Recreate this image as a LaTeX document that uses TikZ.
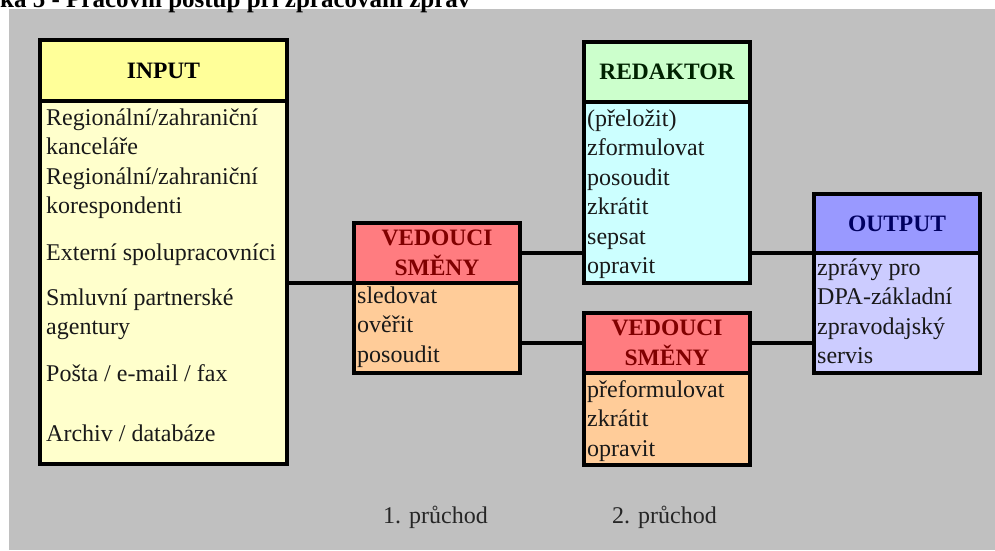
\documentclass[tikz,border=0pt]{standalone}
\usepackage{fontspec}
\setmainfont{Liberation Serif}
\definecolor{bg}{HTML}{C0C0C0}
\definecolor{inHc}{HTML}{FFFF99}
\definecolor{inBc}{HTML}{FFFFCC}
\definecolor{vdHc}{HTML}{FF7C80}
\definecolor{vdBc}{HTML}{FFCC99}
\definecolor{vdTc}{HTML}{800000}
\definecolor{rdHc}{HTML}{CCFFCC}
\definecolor{rdBc}{HTML}{CCFFFF}
\definecolor{rdTc}{HTML}{002200}
\definecolor{otHc}{HTML}{9999FF}
\definecolor{otBc}{HTML}{CCCCFF}
\definecolor{otTc}{HTML}{000060}
\begin{document}
\begin{tikzpicture}[x=1pt,y=-1pt,
  box/.style={draw=black, line width=4pt, inner sep=0pt, outer sep=0pt, anchor=north west},
  hdr/.style={font=\fontsize{23.5}{30}\selectfont\bfseries, align=center},
  bodytext/.style={font=\fontsize{24}{29.5}\selectfont, align=left, anchor=north west, inner sep=0pt, text=black!90},
  lbl/.style={font=\fontsize{24}{29.5}\selectfont, anchor=base west, inner sep=0pt, text=black!85},
  link/.style={line width=4pt}]
\clip (0,0) rectangle (995,550);
\useasboundingbox (0,0) rectangle (995,550);
\fill[bg] (9,9) rectangle (995,550);
\node[anchor=base west, inner sep=0pt, font=\fontsize{25}{30}\selectfont\bfseries] (title) at (0,7) {ka 5 - Pracovní postup při zpracování zpráv};

% INPUT
\node[box, hdr, fill=inHc, minimum width=247pt, minimum height=61pt] (inH) at (40,40) {INPUT};
\node[box, fill=inBc, minimum width=247pt, minimum height=363pt] (inB) at (40,101) {};
\node[bodytext] (inT) at (46,104.35) {\strut Regionální/zahraniční\\ kanceláře\\ Regionální/zahraniční\\ korespondenti\\[17pt] Externí spolupracovníci\\[15.5pt] Smluvní partnerské\\ agentury\\[17.5pt] Pošta / e-mail / fax\\[30.5pt] Archiv / databáze};

% VEDOUCI SMENY 1
\node[box, hdr, fill=vdHc, text=vdTc, minimum width=166pt, minimum height=60pt] (v1H) at (354,223) {VEDOUCI\\SMĚNY};
\node[box, fill=vdBc, minimum width=166pt, minimum height=90pt] (v1B) at (354,283) {};
\node[bodytext] (v1T) at (357,282.35) {\strut sledovat\\ ověřit\\ posoudit};

% REDAKTOR
\node[box, hdr, fill=rdHc, text=rdTc, minimum width=166pt, minimum height=60pt] (rH) at (584,42) {REDAKTOR};
\node[box, fill=rdBc, minimum width=166pt, minimum height=181pt] (rB) at (584,102) {};
\node[bodytext] (rT) at (587,105.35) {\strut (přeložit)\\ zformulovat\\ posoudit\\ zkrátit\\ sepsat\\ opravit};

% VEDOUCI SMENY 2
\node[box, hdr, fill=vdHc, text=vdTc, minimum width=166pt, minimum height=60pt] (v2H) at (584,313) {VEDOUCI\\SMĚNY};
\node[box, fill=vdBc, minimum width=166pt, minimum height=92pt] (v2B) at (584,373) {};
\node[bodytext] (v2T) at (587,376.35) {\strut přeformulovat\\ zkrátit\\ opravit};

% OUTPUT
\node[box, hdr, fill=otHc, text=otTc, minimum width=166pt, minimum height=59pt] (oH) at (814,194) {OUTPUT};
\node[box, fill=otBc, minimum width=166pt, minimum height=120pt] (oB) at (814,253) {};
\node[bodytext] (oT) at (817,254.35) {\strut zprávy pro\\ DPA-základní\\ zpravodajský\\ servis};

% connectors
\draw[link] (inB.east) -- (inB.east -| v1B.west);
\draw[link] (v1H.east) -- (v1H.east -| rB.west);
\draw[link] (v2H.west -| v1B.east) -- (v2H.west);
\draw[link] (oH.south west -| rB.east) -- (oH.south west);
\draw[link] (v2H.east) -- (v2H.east -| oB.west);

% labels
\node[lbl] (p1) at (383,523) {1. průchod};
\node[lbl] (p2) at (612,523) {2. průchod};
\end{tikzpicture}
\end{document}
